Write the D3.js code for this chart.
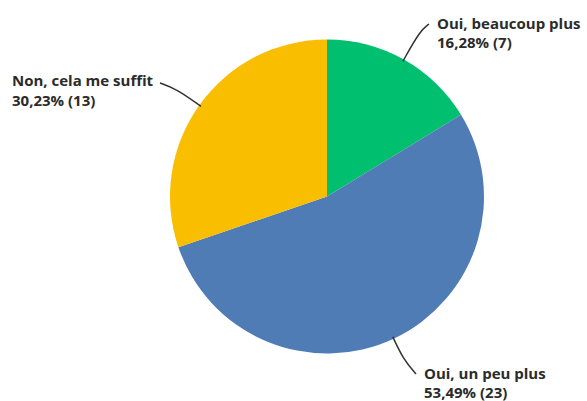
<!DOCTYPE html>
<html><head><meta charset="utf-8">
<script src="https://cdn.jsdelivr.net/npm/d3@7"></script>
<style>html,body{margin:0;padding:0;background:#fff;}svg{display:block;}</style>
</head><body>
<svg id="chart" width="587" height="401"></svg>
<script>
const categories = ["Oui, beaucoup plus", "Oui, un peu plus", "Non, cela me suffit"];
const counts = [7, 23, 13];
const percentLabels = ["16,28%", "53,49%", "30,23%"];
const colors = ["#00bf6f", "#507cb6", "#f9be00"];

const svg = d3.select("#chart");
const cx = 327, cy = 196.5, R = 157;
const g = svg.append("g").attr("transform", `translate(${cx},${cy})`);

const pie = d3.pie().sort(null).value(d => d)(counts);
const arc = d3.arc().innerRadius(0).outerRadius(R);

g.selectAll("path.slice").data(pie).enter().append("path")
  .attr("class", "slice")
  .attr("d", arc)
  .attr("fill", (d, i) => colors[i]);

// label layout (positions in page coords)
const layout = [
  {x: 437, y1: 29, y2: 48, end: [429, 24], elbow: 190},
  {x: 424, y1: 379, y2: 398, end: [416, 374], elbow: 180},
  {x: 12, y1: 86, y2: 106, end: [160, 83], elbow: 185}
];

const line = d3.line().curve(d3.curveBasis);
pie.forEach((d, i) => {
  const a = (d.startAngle + d.endAngle) / 2;
  const L = layout[i];
  const p0 = [cx + (R - 2) * Math.sin(a), cy - (R - 2) * Math.cos(a)];
  const p1 = [cx + L.elbow * Math.sin(a), cy - L.elbow * Math.cos(a)];
  const p2 = L.end;
  svg.append("path")
    .attr("d", line([p0, p1, p2]))
    .attr("fill", "none")
    .attr("stroke", "#333")
    .attr("stroke-width", 1.5);
  const t = svg.append("text")
    .attr("font-family", "'Open Sans', Roboto, sans-serif")
    .attr("font-weight", 700)
    .attr("font-size", 15)
    .attr("fill", "#2b2b2b");
  t.append("tspan").attr("x", L.x).attr("y", L.y1).text(categories[i]);
  t.append("tspan").attr("x", L.x).attr("y", L.y2).text(`${percentLabels[i]} (${counts[i]})`);
});
</script>
</body></html>
